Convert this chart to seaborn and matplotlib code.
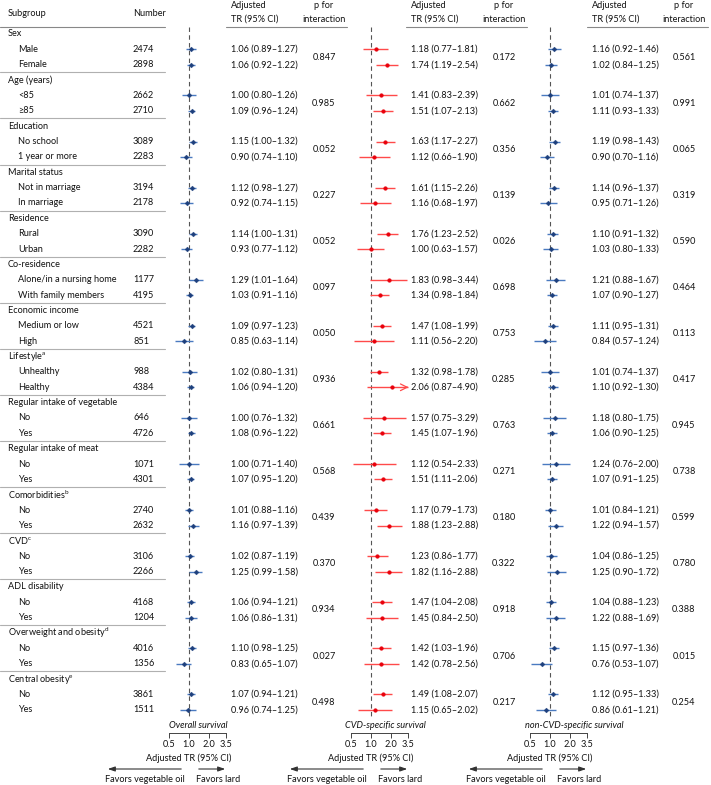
import numpy as np
import pandas as pd
import matplotlib
matplotlib.use("Agg")
import matplotlib.pyplot as plt
import seaborn as sns

sns.set_theme(style="white")
plt.rcParams["font.family"] = ["Lato", "DejaVu Sans"]
plt.rcParams["mathtext.default"] = "regular"

# ── Data ─────────────────────────────────────────────────────────────────────
groups = ["Sex", "Age (years)", "Education", "Marital status", "Residence",
          "Co-residence", "Economic income", "Lifestyle$^{a}$",
          "Regular intake of vegetable", "Regular intake of meat",
          "Comorbidities$^{b}$", "CVD$^{c}$", "ADL disability",
          "Overweight and obesity$^{d}$", "Central obesity$^{e}$"]
items = [["Male", "Female"], ["<85", "≥85"], ["No school", "1 year or more"],
         ["Not in marriage", "In marriage"], ["Rural", "Urban"],
         ["Alone/in a nursing home", "With family members"],
         ["Medium or low", "High"], ["Unhealthy", "Healthy"],
         ["No", "Yes"], ["No", "Yes"], ["No", "Yes"], ["No", "Yes"],
         ["No", "Yes"], ["No", "Yes"], ["No", "Yes"]]
numbers = [2474, 2898, 2662, 2710, 3089, 2283, 3194, 2178, 3090, 2282,
           1177, 4195, 4521, 851, 988, 4384, 646, 4726, 1071, 4301,
           2740, 2632, 3106, 2266, 4168, 1204, 4016, 1356, 3861, 1511]

overall_est = [1.06, 1.06, 1.00, 1.09, 1.15, 0.90, 1.12, 0.92, 1.14, 0.93,
               1.29, 1.03, 1.09, 0.85, 1.02, 1.06, 1.00, 1.08, 1.00, 1.07,
               1.01, 1.16, 1.02, 1.25, 1.06, 1.06, 1.10, 0.83, 1.07, 0.96]
overall_lo = [0.89, 0.92, 0.80, 0.96, 1.00, 0.74, 0.98, 0.74, 1.00, 0.77,
              1.01, 0.91, 0.97, 0.63, 0.80, 0.94, 0.76, 0.96, 0.71, 0.95,
              0.88, 0.97, 0.87, 0.99, 0.94, 0.86, 0.98, 0.65, 0.94, 0.74]
overall_hi = [1.27, 1.22, 1.26, 1.24, 1.32, 1.10, 1.27, 1.15, 1.31, 1.12,
              1.64, 1.16, 1.23, 1.14, 1.31, 1.20, 1.32, 1.22, 1.40, 1.20,
              1.16, 1.39, 1.19, 1.58, 1.21, 1.31, 1.25, 1.07, 1.21, 1.25]
overall_p = ["0.847", "0.985", "0.052", "0.227", "0.052", "0.097", "0.050",
             "0.936", "0.661", "0.568", "0.439", "0.370", "0.934", "0.027",
             "0.498"]

cvd_est = [1.18, 1.74, 1.41, 1.51, 1.63, 1.12, 1.61, 1.16, 1.76, 1.00,
           1.83, 1.34, 1.47, 1.11, 1.32, 2.06, 1.57, 1.45, 1.12, 1.51,
           1.17, 1.88, 1.23, 1.82, 1.47, 1.45, 1.42, 1.42, 1.49, 1.15]
cvd_lo = [0.77, 1.19, 0.83, 1.07, 1.17, 0.66, 1.15, 0.68, 1.23, 0.63,
          0.98, 0.98, 1.08, 0.56, 0.98, 0.87, 0.75, 1.07, 0.54, 1.11,
          0.79, 1.23, 0.86, 1.16, 1.04, 0.84, 1.03, 0.78, 1.08, 0.65]
cvd_hi = [1.81, 2.54, 2.39, 2.13, 2.27, 1.90, 2.26, 1.97, 2.52, 1.57,
          3.44, 1.84, 1.99, 2.20, 1.78, 4.90, 3.29, 1.96, 2.33, 2.06,
          1.73, 2.88, 1.77, 2.88, 2.08, 2.50, 1.96, 2.56, 2.07, 2.02]
cvd_p = ["0.172", "0.662", "0.356", "0.139", "0.026", "0.698", "0.753",
         "0.285", "0.763", "0.271", "0.180", "0.322", "0.918", "0.706",
         "0.217"]

noncvd_est = [1.16, 1.02, 1.01, 1.11, 1.19, 0.90, 1.14, 0.95, 1.10, 1.03,
              1.21, 1.07, 1.11, 0.84, 1.01, 1.10, 1.18, 1.06, 1.24, 1.07,
              1.01, 1.22, 1.04, 1.25, 1.04, 1.22, 1.15, 0.76, 1.12, 0.86]
noncvd_lo = [0.92, 0.84, 0.74, 0.93, 0.98, 0.70, 0.96, 0.71, 0.91, 0.80,
             0.88, 0.90, 0.95, 0.57, 0.74, 0.92, 0.80, 0.90, 0.76, 0.91,
             0.84, 0.94, 0.86, 0.90, 0.88, 0.88, 0.97, 0.53, 0.95, 0.61]
noncvd_hi = [1.46, 1.25, 1.37, 1.33, 1.43, 1.16, 1.37, 1.26, 1.32, 1.33,
             1.67, 1.27, 1.31, 1.24, 1.37, 1.30, 1.75, 1.25, 2.00, 1.25,
             1.21, 1.57, 1.25, 1.72, 1.23, 1.69, 1.36, 1.07, 1.33, 1.21]
noncvd_p = ["0.561", "0.991", "0.065", "0.319", "0.590", "0.464", "0.113",
            "0.417", "0.945", "0.738", "0.599", "0.780", "0.388", "0.015",
            "0.254"]

titles = ["Overall survival", "CVD-specific survival", "non-CVD-specific survival"]

# ── Layout (pixels) ──────────────────────────────────────────────────────────
W, H = 711, 785
ROW0, STEP = 34, 15.36
FS = 6.6
TXT = "#111111"
BLUE_M, BLUE_L = "#1d3f7c", "#4a7ac0"
RED_M, RED_L = "#e8000b", "#ff4a4a"

panels = [
    dict(est=overall_est, lo=overall_lo, hi=overall_hi, p=overall_p,
         xr=189, tx=231, px=324, tc=198, mc=BLUE_M, lc=BLUE_L, mk="D", s=6),
    dict(est=cvd_est, lo=cvd_lo, hi=cvd_hi, p=cvd_p,
         xr=371, tx=411, px=504, tc=385, mc=RED_M, lc=RED_L, mk="o", s=7),
    dict(est=noncvd_est, lo=noncvd_lo, hi=noncvd_hi, p=noncvd_p,
         xr=550, tx=592, px=684, tc=574, mc=BLUE_M, lc=BLUE_L, mk="D", s=6),
]

fig = plt.figure(figsize=(W / 100, H / 100), dpi=100)
bg = fig.add_axes([0, 0, 1, 1])
bg.set_xlim(0, W)
bg.set_ylim(H, 0)
bg.axis("off")

# build row table
rows = []
k = 0
for g, (grp, its) in enumerate(zip(groups, items)):
    rows.append(dict(label=grp, kind="group", g=g, n=""))
    for it in its:
        rows.append(dict(label=it, kind="item", g=g, n=str(numbers[k])))
        k += 1
tab = pd.DataFrame(rows)
tab["row"] = np.arange(len(tab))
tab["y"] = ROW0 + STEP * tab["row"]

# header
bg.text(8, 13, "Subgroup", fontsize=FS, color=TXT, va="center")
bg.text(133, 13, "Number", fontsize=FS, color=TXT, va="center")
bg.plot([0, 165], [27, 27], color="#888888", lw=0.8)
for pn in panels:
    bg.text(pn["tx"], 6, "Adjusted", fontsize=FS, color=TXT, va="center")
    bg.text(pn["tx"], 19.5, "TR (95% CI)", fontsize=FS, color=TXT, va="center")
    bg.text(pn["px"], 6, "p for", fontsize=FS, color=TXT, va="center", ha="center")
    bg.text(pn["px"], 20, "interaction", fontsize=FS, color=TXT, va="center", ha="center")
    bg.plot([pn["tx"] - 5, min(pn["tx"] + 116, W)], [27, 27], color="#888888", lw=0.8)

# table text
for _, r in tab.iterrows():
    if r["kind"] == "group":
        bg.text(8, r["y"], r["label"], fontsize=FS, color=TXT, va="center")
    else:
        bg.text(18, r["y"], r["label"], fontsize=FS, color=TXT, va="center")
        bg.text(133, r["y"], r["n"], fontsize=FS, color=TXT, va="center")
for g in range(len(groups) - 1):
    ysep = ROW0 + STEP * (3 * g + 2) + STEP / 2
    bg.plot([0, 165], [ysep, ysep], color="#b0b0b0", lw=0.8)

it = tab[tab["kind"] == "item"].reset_index(drop=True)

SCALE = 20.3  # px per doubling
XMIN, XMAX = 0.35, 4.2
TOP, BOT = 27, 733
for pn, title in zip(panels, titles):
    left = pn["xr"] + SCALE * np.log2(XMIN)
    right = pn["xr"] + SCALE * np.log2(XMAX)
    ax = fig.add_axes([left / W, 1 - BOT / H, (right - left) / W, (BOT - TOP) / H])
    ax.set_xscale("log")
    ax.set_xlim(XMIN, XMAX)
    ax.set_ylim((BOT - ROW0) / STEP, (TOP - ROW0) / STEP)
    ax.patch.set_alpha(0)
    for sp in ["top", "left", "right"]:
        ax.spines[sp].set_visible(False)
    ax.spines["bottom"].set_bounds(0.5, 3.5)
    ax.spines["bottom"].set_color("#444444")
    ax.spines["bottom"].set_linewidth(0.7)
    ax.set_xticks([0.5, 1.0, 2.0, 3.5])
    ax.set_xticklabels(["0.5", "1.0", "2.0", "3.5"])
    ax.xaxis.set_minor_locator(matplotlib.ticker.NullLocator())
    ax.tick_params(axis="x", direction="out", length=3.5, width=0.7,
                   color="#444444", labelsize=FS, labelcolor=TXT, pad=1.5, bottom=True)
    ax.set_yticks([])
    ax.grid(False)

    d = pd.DataFrame({"est": pn["est"], "lo": pn["lo"], "hi": pn["hi"],
                      "row": it["row"]})
    d["hi_c"] = d["hi"].clip(upper=3.5)
    ax.vlines(1.0, (TOP - ROW0) / STEP, 44.45, colors="#555555", lw=0.8,
              linestyles=(0, (4, 3)))
    ax.hlines(d["row"], d["lo"], d["hi_c"], colors=pn["lc"], lw=1.0)
    for _, r in d[d["hi"] > 3.5].iterrows():
        ax.annotate("", xy=(3.6, r["row"]), xytext=(3.0, r["row"]),
                    arrowprops=dict(arrowstyle="->", color=pn["lc"], lw=0.9))
    sns.scatterplot(data=d, x="est", y="row", ax=ax, marker=pn["mk"], s=pn["s"],
                    color=pn["mc"], edgecolor=pn["mc"], linewidth=0.3, zorder=3,
                    legend=False)
    ax.set_xlabel("")
    ax.set_ylabel("")

    # text columns
    for i, r in it.iterrows():
        bg.text(pn["tx"], r["y"],
                f"{pn['est'][i]:.2f} ({pn['lo'][i]:.2f}–{pn['hi'][i]:.2f})",
                fontsize=FS, color=TXT, va="center")
    for g, pv in enumerate(pn["p"]):
        yp = ROW0 + STEP * (3 * g + 1.5)
        bg.text(pn["px"], yp, pv, fontsize=FS, color=TXT, va="center", ha="center")

    # bottom annotations
    xr = pn["xr"]
    bg.text(pn["tc"], 725, title, fontsize=FS, color=TXT, style="italic",
            ha="center", va="center")
    bg.text(xr, 758, "Adjusted TR (95% CI)", fontsize=FS, color=TXT,
            ha="center", va="center")
    bg.annotate("", xy=(xr - 84, 769), xytext=(xr - 5, 769),
                arrowprops=dict(arrowstyle="-|>,head_length=0.35,head_width=0.12",
                                color="#333333", lw=0.8))
    bg.annotate("", xy=(xr + 39, 769), xytext=(xr + 7, 769),
                arrowprops=dict(arrowstyle="-|>,head_length=0.35,head_width=0.12",
                                color="#333333", lw=0.8))
    bg.text(xr - 44, 779.5, "Favors vegetable oil", fontsize=FS, color=TXT,
            ha="center", va="center")
    bg.text(xr + 7, 779.5, "Favors lard", fontsize=FS, color=TXT,
            ha="left", va="center")

plt.savefig("out.png", dpi=100)
